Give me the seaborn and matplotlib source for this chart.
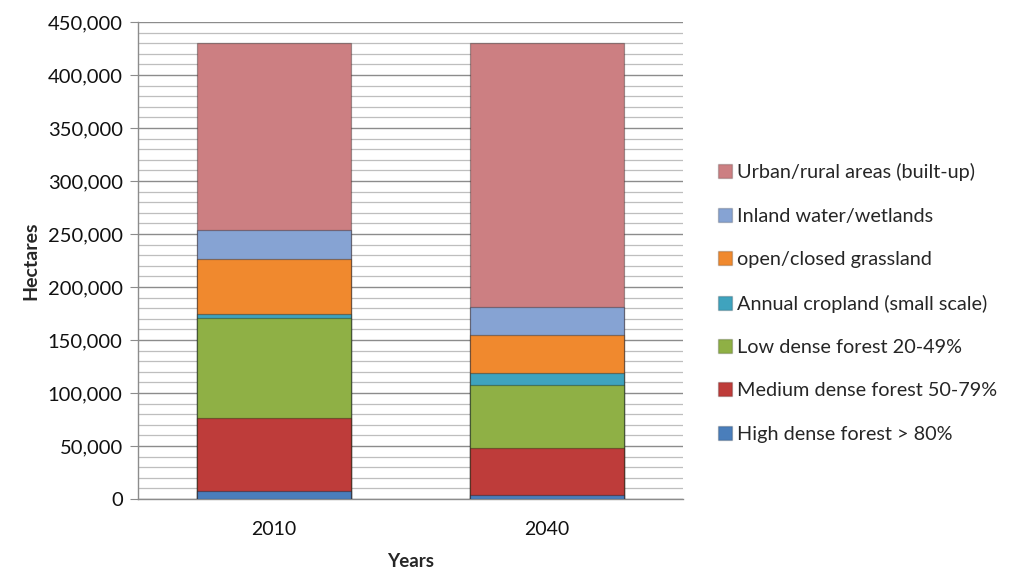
import matplotlib
matplotlib.use("Agg")
import matplotlib.pyplot as plt
import seaborn as sns
import numpy as np
import pandas as pd
from matplotlib.ticker import MultipleLocator, FuncFormatter
from matplotlib.patches import Patch

years = ["2010", "2040"]

# land cover classes, bottom to top of each stack
classes = [
    "High dense forest > 80%",
    "Medium dense forest 50-79%",
    "Low dense forest 20-49%",
    "Annual cropland (small scale)",
    "open/closed grassland",
    "Inland water/wetlands",
    "Urban/rural areas (built-up)",
]

high_dense = [8000, 4000]
medium_dense = [68000, 44000]
low_dense = [95000, 60000]
cropland = [4000, 11000]
grassland = [51000, 36000]
water = [28000, 26000]
urban = [176000, 249000]

colors = ["#4A7EBB", "#BE3C3A", "#8FB045", "#3FA3BE", "#F0892E", "#86A3D3", "#CC7F82"]

series = [high_dense, medium_dense, low_dense, cropland, grassland, water, urban]

sns.set_style("white")
plt.rcParams["font.family"] = ["Lato", "DejaVu Sans"]

fig = plt.figure(figsize=(10.24, 5.75), dpi=100)
ax = fig.add_axes([138 / 1024, 1 - 499 / 575, (683 - 138) / 1024, (499 - 22) / 575])

# cumulative tops, drawn from the tallest down so each layer sits on the one below
tops = np.cumsum(np.array(series), axis=0)
for i in range(len(classes) - 1, -1, -1):
    df = pd.DataFrame({"Years": years, "top": tops[i]})
    sns.barplot(data=df, x="Years", y="top", color=colors[i], width=0.565,
                saturation=1, ax=ax, edgecolor="#00000050", linewidth=0.9, zorder=3)

ax.set_ylim(0, 450000)
ax.yaxis.set_major_locator(MultipleLocator(50000))
ax.yaxis.set_minor_locator(MultipleLocator(10000))
ax.yaxis.set_major_formatter(FuncFormatter(lambda v, p: f"{int(v):,}"))
ax.grid(which="major", axis="y", color="#8C8C8C", linewidth=1.0, zorder=0)
ax.grid(which="minor", axis="y", color="#BEBEBE", linewidth=0.9, zorder=0)
ax.set_axisbelow(True)

for s in ["top", "right"]:
    ax.spines[s].set_visible(False)
for s in ["left", "bottom"]:
    ax.spines[s].set_color("#8C8C8C")
    ax.spines[s].set_linewidth(1.0)

ax.tick_params(axis="y", which="major", left=True, length=6, color="#8C8C8C",
               labelsize=14.5, pad=5, labelcolor="#111111")
ax.tick_params(axis="y", which="minor", left=False)
ax.tick_params(axis="x", bottom=False, labelsize=14, pad=12, labelcolor="#111111")

ax.set_ylabel("Hectares", fontsize=14, fontweight="bold", labelpad=6)
ax.set_xlabel("Years", fontsize=13.5, fontweight="bold", labelpad=11)

handles = [Patch(facecolor=colors[i], edgecolor="#00000030", label=classes[i])
           for i in range(len(classes) - 1, -1, -1)]
fig.legend(handles=handles, loc="center left", bbox_to_anchor=(710 / 1024, 1 - 303 / 575),
           frameon=False, fontsize=14.3, labelspacing=1.33, handlelength=0.7,
           handleheight=0.7, handletextpad=0.25, borderaxespad=0)

fig.savefig("out.png", dpi=100)
